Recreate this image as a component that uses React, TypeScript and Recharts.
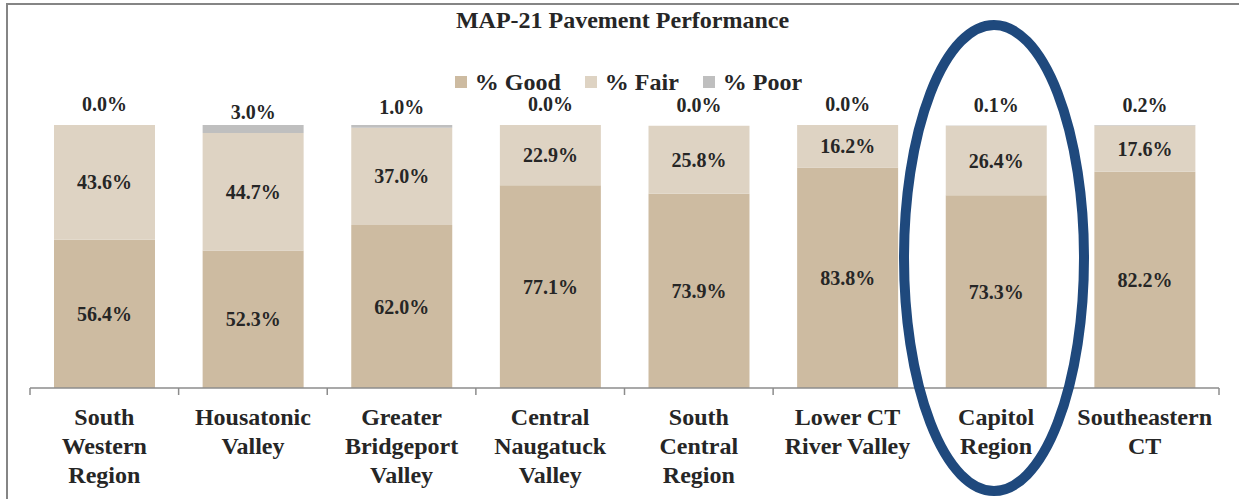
import React from "react";
import { BarChart, Bar, XAxis, YAxis, LabelList } from "recharts";

const regions = [
  "South\nWestern\nRegion",
  "Housatonic\nValley",
  "Greater\nBridgeport\nValley",
  "Central\nNaugatuck\nValley",
  "South\nCentral\nRegion",
  "Lower CT\nRiver Valley",
  "Capitol\nRegion",
  "Southeastern\nCT",
];
const goodPct = [56.4, 52.3, 62.0, 77.1, 73.9, 83.8, 73.3, 82.2];
const fairPct = [43.6, 44.7, 37.0, 22.9, 25.8, 16.2, 26.4, 17.6];
const poorPct = [0.0, 3.0, 1.0, 0.0, 0.0, 0.0, 0.1, 0.2];

const data = regions.map((region, i) => ({
  region,
  good: goodPct[i],
  fair: fairPct[i],
  poor: poorPct[i],
}));

const W = 1239;
const H = 499;
const MARGIN = { top: 125, right: 20, bottom: 0, left: 30 };
const FONT = "'Liberation Serif', 'Times New Roman', serif";
const TEXT = "#262626";
const GOOD = "#cdbba1";
const FAIR = "#ded3c3";
const POOR = "#bfbfbf";
const AXIS = "#8c8c8c";

const fmt = (v: any) => `${Number(v).toFixed(1)}%`;

const RegionTick = (props: any) => {
  const { x, y, payload, index } = props;
  const half =
    payload.offset || (W - MARGIN.left - MARGIN.right) / regions.length / 2;
  const lines = String(payload.value).split("\n");
  return (
    <g>
      <line x1={x - half} y1={y} x2={x - half} y2={y + 7} stroke={AXIS} strokeWidth={1.5} />
      {index === regions.length - 1 && (
        <line x1={x + half} y1={y} x2={x + half} y2={y + 7} stroke={AXIS} strokeWidth={1.5} />
      )}
      <text
        x={x}
        y={y + 37}
        textAnchor="middle"
        fill={TEXT}
        fontFamily={FONT}
        fontWeight="bold"
        fontSize={24}
      >
        {lines.map((l, i) => (
          <tspan key={i} x={x} dy={i === 0 ? 0 : 29}>
            {l}
          </tspan>
        ))}
      </text>
    </g>
  );
};

// the poor label is hung off the top of the fair segment (= base of the poor segment),
// so zero-valued poor segments still get their "0.0%" label
const PoorLabel = (props: any) => {
  const { x, y, width, index } = props;
  return (
    <text
      x={x + width / 2}
      y={y - 14}
      textAnchor="middle"
      fill={TEXT}
      fontFamily={FONT}
      fontWeight="bold"
      fontSize={20}
    >
      {fmt(poorPct[index])}
    </text>
  );
};

const legendItems = [
  { name: "% Good", color: GOOD },
  { name: "% Fair", color: FAIR },
  { name: "% Poor", color: POOR },
];

export default function App() {
  const labelStyle = {
    fill: TEXT,
    fontFamily: FONT,
    fontWeight: "bold",
    fontSize: 20,
  } as any;

  return (
    <div
      style={{
        position: "absolute",
        left: 0,
        top: 0,
        width: W,
        height: H,
        overflow: "hidden",
        background: "#fff",
      }}
    >
      <div
        style={{
          position: "absolute",
          left: 6,
          top: 3,
          width: W + 50,
          height: H + 50,
          border: "2px solid #858585",
        }}
      />
      <div
        style={{
          position: "absolute",
          left: 0,
          top: 8,
          width: 1245,
          textAlign: "center",
          fontFamily: FONT,
          fontWeight: "bold",
          fontSize: 24,
          lineHeight: "24px",
          color: TEXT,
        }}
      >
        MAP-21 Pavement Performance
      </div>
      <div
        style={{
          position: "absolute",
          left: 0,
          top: 70,
          width: 1257,
          display: "flex",
          justifyContent: "center",
          gap: 24,
          fontFamily: FONT,
          fontWeight: "bold",
          fontSize: 24,
          lineHeight: "24px",
          color: TEXT,
        }}
      >
        {legendItems.map((it) => (
          <span key={it.name} style={{ display: "flex", alignItems: "center", gap: 8 }}>
            <span style={{ width: 12, height: 12, background: it.color, display: "inline-block" }} />
            {it.name}
          </span>
        ))}
      </div>
      <div style={{ position: "absolute", left: 0, top: 0 }}>
        <BarChart width={W} height={H} data={data} margin={MARGIN}>
          <XAxis
            dataKey="region"
            interval={0}
            height={111}
            tickSize={0}
            tickMargin={0}
            tickLine={false}
            axisLine={{ stroke: AXIS, strokeWidth: 1.5 }}
            tick={<RegionTick />}
          />
          <YAxis hide domain={[0, 100]} allowDataOverflow />
          <Bar dataKey="good" stackId="a" fill={GOOD} barSize={101} isAnimationActive={false}>
            <LabelList dataKey="good" position="center" formatter={fmt} style={labelStyle} />
          </Bar>
          <Bar dataKey="fair" stackId="a" fill={FAIR} barSize={101} isAnimationActive={false}>
            <LabelList dataKey="fair" position="center" formatter={fmt} style={labelStyle} />
            <LabelList dataKey="poor" content={<PoorLabel />} />
          </Bar>
          <Bar dataKey="poor" stackId="a" fill={POOR} barSize={101} isAnimationActive={false} />
        </BarChart>
      </div>
      <svg
        width={W}
        height={H}
        style={{ position: "absolute", left: 0, top: 0, pointerEvents: "none" }}
      >
        <ellipse cx={994} cy={258} rx={90} ry={233} fill="none" stroke="#1f497d" strokeWidth={10} />
      </svg>
    </div>
  );
}
